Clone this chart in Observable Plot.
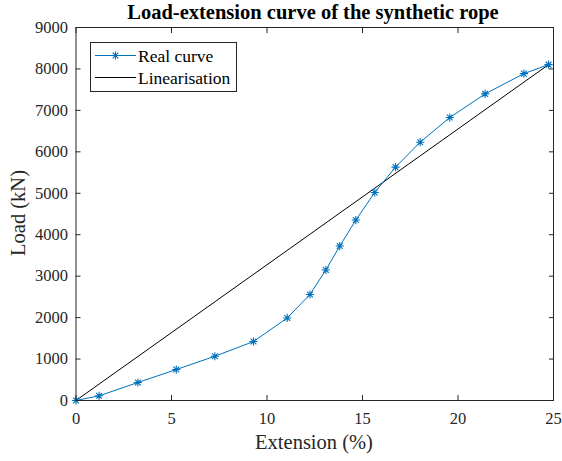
<!DOCTYPE html>
<html>
<head>
<meta charset="utf-8">
<script src="https://cdn.jsdelivr.net/npm/d3@7"></script>
<script src="https://cdn.jsdelivr.net/npm/@observablehq/plot@0.6"></script>
<style>
  html, body { margin: 0; padding: 0; background: #fff; }
  svg { display: block; }
  svg text { font-family: 'Liberation Serif', 'Times New Roman', serif !important; }
</style>
</head>
<body>
<div id="chart"></div>
<script>
const extension = [0, 1.21, 3.24, 5.25, 7.27, 9.29, 11.06, 12.25, 13.08, 13.81, 14.65, 15.64, 16.73, 18.02, 19.57, 21.42, 23.45, 24.74];
const load = [0, 113, 434, 747, 1068, 1422, 1992, 2558, 3149, 3727, 4354, 5020, 5631, 6233, 6827, 7398, 7887, 8104];
const linExtension = [0, 24.74];
const linLoad = [0, 8104];
const xTicks = [0, 5, 10, 15, 20, 25];
const yTicks = [0, 1000, 2000, 3000, 4000, 5000, 6000, 7000, 8000, 9000];
const seriesNames = ["Real curve", "Linearisation"];
const titleText = "Load-extension curve of the synthetic rope";
const xLabel = "Extension (%)";
const yLabel = "Load (kN)";

const real = extension.map((x, i) => ({x, y: load[i]}));
const lin = linExtension.map((x, i) => ({x, y: linLoad[i]}));

const blue = "#0072BD";
const ink = "#262626";
const font = "'Liberation Serif', 'Times New Roman', serif";

// 8-armed MATLAB-style asterisk
const asterisk = {
  draw(context, size) {
    const r = Math.sqrt(size) * 0.55;
    const d = r * Math.SQRT1_2;
    context.moveTo(-r, 0); context.lineTo(r, 0);
    context.moveTo(0, -r); context.lineTo(0, r);
    context.moveTo(-d, -d); context.lineTo(d, d);
    context.moveTo(-d, d); context.lineTo(d, -d);
  }
};

const fmt = d3.format("d");

const chart = Plot.plot({
  width: 562,
  height: 461,
  marginLeft: 75.5,
  marginRight: 9,
  marginTop: 27,
  marginBottom: 61,
  style: {fontFamily: font, background: "#fff"},
  x: {domain: [0, 25]},
  y: {domain: [0, 9000]},
  marks: [
    Plot.axisX({anchor: "bottom", ticks: xTicks, tickSize: -5, tickPadding: 17, tickFormat: fmt, fontSize: 16.5, fontFamily: font, color: ink, label: null}),
    Plot.axisX({anchor: "top", ticks: xTicks, tickSize: -5, tickFormat: () => "", color: ink, label: null}),
    Plot.axisY({anchor: "left", ticks: yTicks, tickSize: -5, tickPadding: 13, tickFormat: fmt, fontSize: 16.5, fontFamily: font, color: ink, label: null}),
    Plot.axisY({anchor: "right", ticks: yTicks, tickSize: -5, tickFormat: () => "", color: ink, label: null}),
    Plot.line(lin, {x: "x", y: "y", stroke: "#000", strokeWidth: 1}),
    Plot.line(real, {x: "x", y: "y", stroke: blue, strokeWidth: 1}),
    Plot.dot(real, {x: "x", y: "y", symbol: asterisk, r: 4.2, stroke: blue, strokeWidth: 1.1, fill: "none"}),
    Plot.frame({stroke: ink, strokeWidth: 1})
  ]
});

document.getElementById("chart").appendChild(chart);

const svg = d3.select(chart);
// Title
svg.append("text")
  .attr("x", 313).attr("y", 19)
  .attr("text-anchor", "middle")
  .attr("font-family", font).attr("font-weight", "bold").attr("font-size", 20.5)
  .attr("fill", "#000")
  .text(titleText);
// X label
svg.append("text")
  .attr("x", 314).attr("y", 449)
  .attr("text-anchor", "middle")
  .attr("font-family", font).attr("font-size", 20.5)
  .attr("fill", ink)
  .text(xLabel);
// Y label
svg.append("text")
  .attr("transform", "translate(25,213) rotate(-90)")
  .attr("text-anchor", "middle")
  .attr("font-family", font).attr("font-size", 20.5)
  .attr("fill", ink)
  .text(yLabel);

// Legend
const lg = svg.append("g").attr("transform", "translate(90,42)");
lg.append("rect").attr("x", 0.5).attr("y", 0.5).attr("width", 146).attr("height", 49)
  .attr("fill", "#fff").attr("stroke", ink).attr("stroke-width", 1);
lg.append("line").attr("x1", 5).attr("x2", 46).attr("y1", 13.5).attr("y2", 13.5).attr("stroke", blue).attr("stroke-width", 1);
lg.append("path").attr("transform", "translate(25.5,13.5)")
  .attr("d", (() => { const p = d3.path(); asterisk.draw(p, 4.2 * 4.2 * 3); return p.toString(); })())
  .attr("stroke", blue).attr("stroke-width", 1.1).attr("fill", "none");
lg.append("text").attr("x", 48).attr("y", 19.5).attr("text-anchor", "start")
  .attr("font-family", font).attr("font-size", 17.5).attr("fill", "#000").text(seriesNames[0]);
lg.append("line").attr("x1", 5).attr("x2", 46).attr("y1", 35.5).attr("y2", 35.5).attr("stroke", "#000").attr("stroke-width", 1);
lg.append("text").attr("x", 48).attr("y", 41.5).attr("text-anchor", "start")
  .attr("font-family", font).attr("font-size", 17.5).attr("fill", "#000").text(seriesNames[1]);
</script>
</body>
</html>
